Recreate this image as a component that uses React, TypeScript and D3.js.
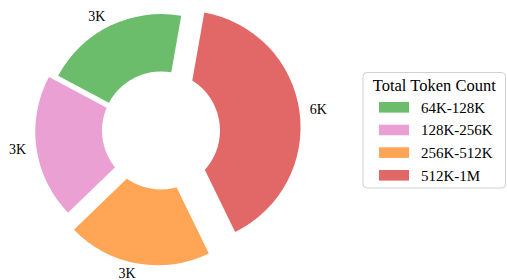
import React from 'react'
import * as d3 from 'd3'

// token count buckets and how many samples fall in each
const categories = ['64K-128K', '128K-256K', '256K-512K', '512K-1M']
const counts = [3000, 3000, 3000, 6000]
const legendTitle = 'Total Token Count'

// tab colours at 0.7 alpha on white
const colors = ['#6bbd6b', '#eba0d4', '#ffa556', '#e26868']
// how far each slice is pulled out, as a fraction of the radius
const explode = [0, 0.08, 0.16, 0.2]

const width = 507
const height = 280

const App = () => {
  const cx = 161
  const cy = 130.5
  const radius = 116.5
  const hole = 59

  // matplotlib style: start at 80deg and go counter-clockwise
  const start = (10 * Math.PI) / 180
  const pie = d3
    .pie<number>()
    .sort(null)
    .value(d => d)
    .startAngle(start)
    .endAngle(start - 2 * Math.PI)

  const slices = pie(counts)

  const arc = d3
    .arc<d3.PieArcDatum<number>>()
    .innerRadius(0)
    .outerRadius(radius)

  const fmt = (v: number) => `${Math.round(v / 1000)}K`

  // legend box
  const lx = 363
  const ly = 72.5
  const lw = 142.5
  const lh = 115.5
  const rowY = d3
    .scalePoint<string>()
    .domain(categories)
    .range([107.3, 175.3])

  return (
    <svg
      width={width}
      height={height}
      style={{position: 'absolute', left: 0, top: 0}}
      fontFamily="'Liberation Serif', serif"
    >
      <rect width={width} height={height} fill="#fff" />
      <g transform={`translate(${cx},${cy})`}>
        {slices.map((s, i) => {
          const mid = (s.startAngle + s.endAngle) / 2
          const off = explode[i] * radius
          const ox = Math.sin(mid) * off
          const oy = -Math.cos(mid) * off
          const lr = radius * 1.09
          const tx = ox + Math.sin(mid) * lr
          const ty = oy - Math.cos(mid) * lr
          return (
            <g key={categories[i]}>
              <path
                d={arc(s) || ''}
                fill={colors[i]}
                transform={`translate(${ox},${oy})`}
              />
              <text
                x={tx}
                y={ty}
                fontSize={14}
                dominantBaseline="central"
                textAnchor={tx < 0 ? 'end' : 'start'}
                fill="#000"
              >
                {fmt(counts[i])}
              </text>
            </g>
          )
        })}
        <circle r={hole} fill="#fff" />
      </g>

      <g>
        <rect
          x={lx}
          y={ly}
          width={lw}
          height={lh}
          rx={4}
          fill="#fff"
          stroke="#d0d0d0"
          strokeWidth={1}
        />
        <text
          x={lx + lw / 2}
          y={91}
          fontSize={16.5}
          textAnchor="middle"
          fill="#000"
        >
          {legendTitle}
        </text>
        {categories.map((c, i) => (
          <g key={c}>
            <rect
              x={379}
              y={(rowY(c) || 0) - 5.3}
              width={30}
              height={10.6}
              fill={colors[i]}
            />
            <text
              x={421}
              y={(rowY(c) || 0) + 0.5}
              fontSize={15}
              dominantBaseline="central"
              fill="#000"
            >
              {c}
            </text>
          </g>
        ))}
      </g>
    </svg>
  )
}

export default App
